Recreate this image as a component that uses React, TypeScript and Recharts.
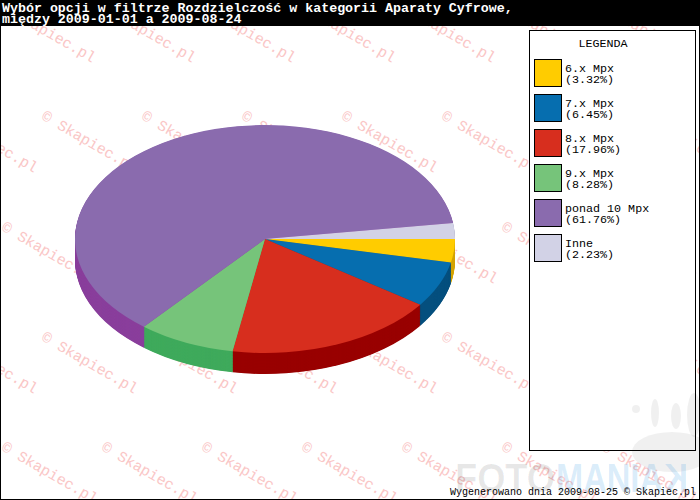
import React from 'react';
import { PieChart, Pie, Cell } from 'recharts';

// ---- data ----
const categories = ['6.x Mpx', '7.x Mpx', '8.x Mpx', '9.x Mpx', 'ponad 10 Mpx', 'Inne'];
const shares = [3.32, 6.45, 17.96, 8.28, 61.76, 2.23];
const topColors = ['#FFCC00', '#066EAF', '#D72E1E', '#76C47A', '#8A6BAE', '#D2D2E6'];
const sideColors = ['#D4A300', '#044F7E', '#990000', '#3FAA5C', '#8A3F9C', '#A9A9C4'];
const titleLines = [
  'Wybór opcji w filtrze Rozdzielczość w kategorii Aparaty Cyfrowe,',
  'między 2009-01-01 a 2009-08-24',
];
const legendTitle = 'LEGENDA';
const footerText = 'Wygenerowano dnia 2009-08-25 © Skapiec.pl';
const watermarkText = '© Skapiec.pl';

const pieData = categories.map((name, i) => ({ name, value: shares[i] }));

// ---- layout ----
const W = 700;
const H = 500;
const SQUASH = 0.6;
const CX = 265;
const CY = 239 / SQUASH;
const R = 190;
const DEPTH = 35; // in unsquashed units (~21px)
const MONO = '"Liberation Mono", "Courier New", monospace';
const NO_MARGIN = { top: 0, right: 0, bottom: 0, left: 0 };

const wmRows = [
  { y: 7, x0: 5 },
  { y: 117, x0: 47 },
  { y: 228, x0: 7 },
  { y: 338, x0: 47 },
  { y: 448, x0: 7 },
];

function Watermark() {
  const items: React.ReactNode[] = [];
  wmRows.forEach((row, ri) => {
    for (let x = row.x0 - 100; x < W + 20; x += 100) {
      const tx = x - 6.4;
      const ty = row.y + 2.1;
      items.push(
        <text
          key={`${ri}-${x}`}
          x={tx}
          y={ty}
          transform={`rotate(30 ${tx} ${ty})`}
          fontFamily={MONO}
          fontSize={15}
          fill="#FAC6C6"
        >
          {watermarkText}
        </text>
      );
    }
  });
  return (
    <svg width={W} height={H} style={{ position: 'absolute', left: 0, top: 0 }}>
      {items}
    </svg>
  );
}

function Pie3D() {
  const layers: number[] = [];
  for (let k = DEPTH; k >= 1; k--) layers.push(k);
  return (
    <div
      style={{
        position: 'absolute',
        left: 0,
        top: 0,
        width: W,
        height: H / SQUASH,
        transform: `scaleY(${SQUASH})`,
        transformOrigin: '0 0',
      }}
    >
      <PieChart width={W} height={H / SQUASH} margin={NO_MARGIN}>
        {layers.map((k) => (
          <Pie
            key={`side-${k}`}
            data={pieData}
            dataKey="value"
            nameKey="name"
            cx={CX}
            cy={CY + k}
            outerRadius={R}
            innerRadius={0}
            startAngle={0}
            endAngle={-360}
            stroke="none"
            isAnimationActive={false}
            label={false}
            labelLine={false}
          >
            {pieData.map((d, i) => (
              <Cell key={d.name} fill={sideColors[i]} stroke="none" />
            ))}
          </Pie>
        ))}
        <Pie
          key="top"
          data={pieData}
          dataKey="value"
          nameKey="name"
          cx={CX}
          cy={CY}
          outerRadius={R}
          innerRadius={0}
          startAngle={0}
          endAngle={-360}
          stroke="none"
          isAnimationActive={false}
          label={false}
          labelLine={false}
        >
          {pieData.map((d, i) => (
            <Cell key={d.name} fill={topColors[i]} stroke="none" />
          ))}
        </Pie>
      </PieChart>
    </div>
  );
}

function Overlay() {
  return (
    <svg width={W} height={H} style={{ position: 'absolute', left: 0, top: 0 }}>
      {/* title bar */}
      <rect x={0} y={0} width={W} height={26} fill="#000" />
      {titleLines.map((t, i) => (
        <text
          key={i}
          x={2}
          y={11.5 + i * 11}
          fontFamily={MONO}
          fontSize={13.3}
          fontWeight="bold"
          fill="#fff"
        >
          {t}
        </text>
      ))}

      {/* legend */}
      <rect x={529.5} y={30.5} width={166} height={420} fill="#fff" stroke="#000" strokeWidth={1} />
      <text x={603} y={47} textAnchor="middle" fontFamily={MONO} fontSize={11.7} fill="#000">
        {legendTitle}
      </text>
      {categories.map((c, i) => (
        <g key={c}>
          <rect
            x={534.5}
            y={59.5 + i * 35}
            width={27}
            height={27}
            fill={topColors[i]}
            stroke="#000"
            strokeWidth={1}
          />
          <text x={565} y={71.5 + i * 35} fontFamily={MONO} fontSize={11.7} fill="#000">
            {c}
          </text>
          <text x={565} y={83 + i * 35} fontFamily={MONO} fontSize={11.7} fill="#000">
            {`(${shares[i].toFixed(2)}%)`}
          </text>
        </g>
      ))}

      {/* logo (semi-transparent) */}
      <g>
        <g fill="#000" fillOpacity={0.06}>
          <ellipse cx={672} cy={452} rx={40} ry={20} />
          <ellipse cx={655} cy={413} rx={4} ry={14} />
          <ellipse cx={676} cy={416} rx={5} ry={13} />
          <ellipse cx={694} cy={415} rx={7} ry={22} />
          <circle cx={636} cy={409} r={4} />
        </g>
        <text
          x={455}
          y={492}
          fontFamily='"Liberation Sans", Arial, sans-serif'
          fontWeight="bold"
          fontSize={40}
          textLength={100}
          lengthAdjust="spacingAndGlyphs"
          fill="#000"
          fillOpacity={0.09}
        >
          FOTO
        </text>
        <text
          x={556}
          y={492}
          fontFamily='"Liberation Sans", Arial, sans-serif'
          fontWeight="bold"
          fontSize={40}
          textLength={107}
          lengthAdjust="spacingAndGlyphs"
          fill="#1E8FE0"
          fillOpacity={0.17}
        >
          MANIA
        </text>
        <text
          transform="translate(688 0) scale(-1 1)"
          x={0}
          y={492}
          fontFamily='"Liberation Sans", Arial, sans-serif'
          fontWeight="bold"
          fontSize={40}
          textLength={24}
          lengthAdjust="spacingAndGlyphs"
          fill="#1E8FE0"
          fillOpacity={0.17}
        >
          K
        </text>
      </g>

      {/* footer */}
      <text x={450} y={495} fontFamily={MONO} fontSize={10} fill="#000">
        {footerText}
      </text>

      {/* outer border */}
      <rect x={0.5} y={0.5} width={W - 1} height={H - 1} fill="none" stroke="#000" strokeWidth={1} />
    </svg>
  );
}

export default function App() {
  return (
    <div
      style={{
        position: 'absolute',
        left: 0,
        top: 0,
        width: W,
        height: H,
        background: '#fff',
        overflow: 'hidden',
      }}
    >
      <Watermark />
      <Pie3D />
      <Overlay />
    </div>
  );
}
